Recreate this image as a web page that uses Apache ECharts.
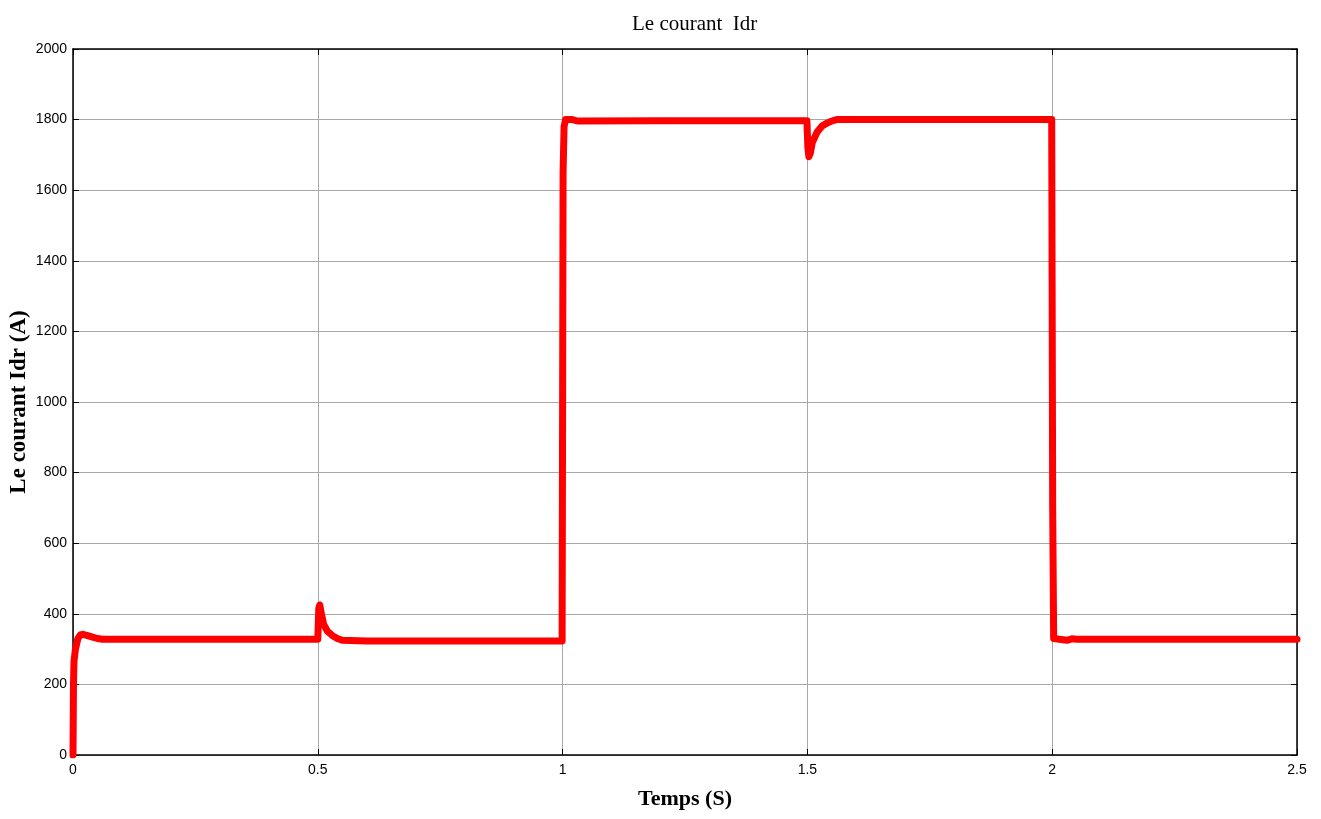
<!DOCTYPE html>
<html>
<head>
<meta charset="utf-8">
<script src="https://cdn.jsdelivr.net/npm/echarts@6/dist/echarts.min.js"></script>
<style>html,body{margin:0;padding:0;background:#fff}#c{width:1321px;height:819px}</style>
</head>
<body>
<div id="c"></div>
<script>
const titleText = "Le courant  Idr";
const xName = "Temps (S)";
const yName = "Le courant Idr (A)";
const timeS = [0, 0.001, 0.002, 0.005, 0.01, 0.015, 0.02, 0.03, 0.04, 0.05, 0.06, 0.2, 0.4, 0.5,
  0.502, 0.504, 0.508, 0.512, 0.52, 0.53, 0.54, 0.55, 0.6, 0.8, 0.999,
  1.0, 1.001, 1.003, 1.006, 1.02, 1.03, 1.2, 1.4, 1.499,
  1.501, 1.503, 1.506, 1.51, 1.52, 1.53, 1.54, 1.55, 1.56, 1.7, 1.9, 1.999,
  2.0, 2.001, 2.003, 2.006, 2.03, 2.04, 2.05, 2.3, 2.5];
const idr = [0, 200, 265, 300, 330, 340, 342, 338, 334, 330, 328, 328, 328, 328,
  415, 425, 395, 370, 350, 338, 330, 325, 323, 323, 323,
  323, 1650, 1780, 1800, 1800, 1796, 1797, 1797, 1797,
  1720, 1695, 1705, 1735, 1765, 1782, 1790, 1796, 1800, 1800, 1800, 1800,
  1800, 700, 330, 325, 325, 329, 328, 328, 328];
const xTicks = {min: 0, max: 2.5, interval: 0.5};
const yTicks = {min: 0, max: 2000, interval: 200};

const data = timeS.map((t, i) => [t, idr[i]]);
const chart = echarts.init(document.getElementById('c'));
const tickLbl = {fontFamily: 'Liberation Sans, Arial', fontSize: 14, color: '#000', formatter: v => String(v)};
const boxLine = {show: true, onZero: false, lineStyle: {color: '#000', width: 1.5}};
const boxTick = {show: true, inside: true, length: 6, lineStyle: {color: '#000'}};
chart.setOption({
  animation: false,
  title: {text: titleText, left: 627, top: 9,
    textStyle: {fontFamily: 'Liberation Serif, Times New Roman', fontWeight: 'normal', fontSize: 21, color: '#000'}},
  grid: {left: 73, right: 24, top: 49, bottom: 64, containLabel: false, outerBoundsMode: 'none'},
  xAxis: [{
    type: 'value', min: xTicks.min, max: xTicks.max, interval: xTicks.interval,
    name: xName, nameLocation: 'middle', nameGap: 33, nameMoveOverlap: false,
    nameTextStyle: {fontFamily: 'Liberation Serif, Times New Roman', fontWeight: 'bold', fontSize: 22, color: '#000'},
    axisLine: boxLine, axisTick: boxTick,
    axisLabel: Object.assign({margin: 8}, tickLbl),
    splitLine: {show: true, lineStyle: {color: '#a8a8a8', width: 1}}
  }, {
    type: 'value', position: 'top', min: xTicks.min, max: xTicks.max, interval: xTicks.interval,
    axisLine: boxLine, axisTick: boxTick,
    axisLabel: {show: false}, splitLine: {show: false}
  }],
  yAxis: [{
    type: 'value', min: yTicks.min, max: yTicks.max, interval: yTicks.interval,
    name: yName, nameLocation: 'middle', nameGap: 42, nameRotate: 90, nameMoveOverlap: false,
    nameTextStyle: {fontFamily: 'Liberation Serif, Times New Roman', fontWeight: 'bold', fontSize: 23, color: '#000'},
    axisLine: boxLine, axisTick: boxTick,
    axisLabel: Object.assign({margin: 6}, tickLbl),
    splitLine: {show: true, lineStyle: {color: '#a8a8a8', width: 1}}
  }, {
    type: 'value', position: 'right', min: yTicks.min, max: yTicks.max, interval: yTicks.interval,
    axisLine: boxLine, axisTick: boxTick,
    axisLabel: {show: false}, splitLine: {show: false}
  }],
  series: [{
    type: 'line', data: data, showSymbol: false, symbol: 'none',
    lineStyle: {color: '#ff0000', width: 7, join: 'round', cap: 'round'},
    itemStyle: {color: '#ff0000'}
  }]
});
</script>
</body>
</html>
